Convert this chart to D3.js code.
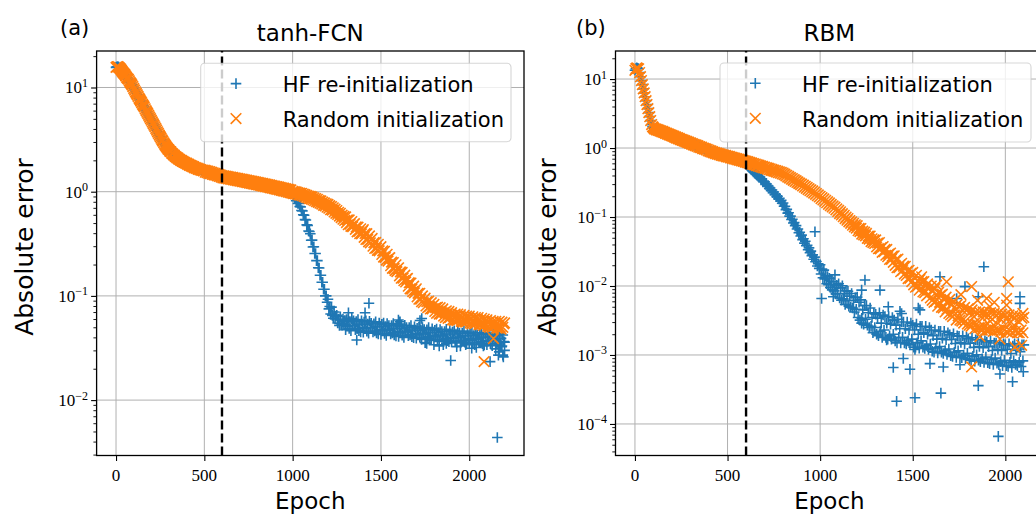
<!DOCTYPE html>
<html><head><meta charset="utf-8">
<script src="https://cdn.jsdelivr.net/npm/d3@7"></script>
<style>body{margin:0;background:#fff}svg{display:block}</style>
</head><body>
<svg id="c" width="1036" height="515"></svg>
<script>
// ---------------- DATA ----------------
const SERIES_NAMES = ["HF re-initialization", "Random initialization"];
const PANEL_TITLES = ["tanh-FCN", "RBM"];
const PANEL_TAGS = ["(a)", "(b)"];
const X_TICKS = [0, 500, 1000, 1500, 2000];
const X_TICK_LABELS = ["0", "500", "1000", "1500", "2000"];
const Y_TICKS_A = [1e-2, 1e-1, 1, 10];
const Y_EXP_A = ["\u22122", "\u22121", "0", "1"];
const Y_TICKS_B = [1e-4, 1e-3, 1e-2, 1e-1, 1, 10];
const Y_EXP_B = ["\u22124", "\u22123", "\u22122", "\u22121", "0", "1"];
const REINIT_EPOCH = 600;

// Panel (a) tanh-FCN : random initialization, sampled every 5 epochs 0..2200
const epochsA = d3.range(0, 2201, 5);
const randA = [
 15.6,15.8,15.9,15.7,15.4,15.1,14.7,14.3,13.9,13.6,13.3,12.9,12.5,12.2,12.0,11.6,11.2,10.9,10.6,10.2,
 9.8,9.45,9.1,8.8,8.5,8.2,7.9,7.65,7.4,7.15,6.9,6.7,6.5,6.25,6.0,5.8,5.6,5.4,5.2,5.02,
 4.85,4.67,4.5,4.35,4.2,4.05,3.9,3.76,3.62,3.49,3.37,3.26,3.15,3.05,2.95,2.86,2.78,2.7,2.63,2.56,
 2.52,2.44,2.42,2.34,2.32,2.25,2.24,2.18,2.16,2.11,2.11,2.05,2.04,2.0,2.0,1.95,1.95,1.91,1.91,1.87,
 1.88,1.83,1.84,1.79,1.8,1.76,1.77,1.73,1.74,1.69,1.7,1.67,1.68,1.64,1.66,1.62,1.63,1.6,1.61,1.58,
 1.61,1.54,1.59,1.52,1.58,1.5,1.56,1.49,1.54,1.47,1.52,1.45,1.5,1.44,1.48,1.42,1.47,1.4,1.45,1.38,
 1.43,1.36,1.42,1.35,1.41,1.34,1.4,1.33,1.39,1.32,1.38,1.31,1.37,1.3,1.36,1.29,1.35,1.28,1.34,1.27,
 1.33,1.26,1.32,1.25,1.31,1.24,1.3,1.23,1.29,1.22,1.28,1.21,1.27,1.2,1.26,1.19,1.25,1.18,1.24,1.17,
 1.23,1.16,1.22,1.15,1.21,1.14,1.2,1.13,1.19,1.12,1.18,1.11,1.17,1.1,1.16,1.09,1.15,1.08,1.14,1.07,
 1.13,1.06,1.12,1.05,1.11,1.04,1.1,1.03,1.09,1.02,1.08,1.01,1.07,1.0,1.06,0.99,1.05,0.98,1.04,0.97,
 1.01,0.96,1.0,0.955,0.995,0.945,0.98,0.93,0.97,0.925,0.965,0.915,0.95,0.9,0.935,0.885,0.92,0.87,0.905,0.86,
 0.9,0.85,0.89,0.835,0.875,0.82,0.86,0.805,0.845,0.79,0.825,0.775,0.815,0.76,0.795,0.74,0.78,0.73,0.765,0.71,
 0.755,0.695,0.735,0.672,0.72,0.665,0.7,0.64,0.68,0.62,0.66,0.605,0.635,0.583,0.62,0.565,0.595,0.545,0.58,0.53,
 0.572,0.506,0.536,0.482,0.536,0.488,0.465,0.517,0.461,0.487,0.493,0.435,0.459,0.412,0.457,0.415,0.395,0.44,0.394,0.417,
 0.432,0.365,0.397,0.348,0.396,0.348,0.33,0.376,0.323,0.348,0.356,0.3,0.324,0.285,0.326,0.288,0.274,0.313,0.271,0.291,
 0.297,0.25,0.271,0.236,0.268,0.234,0.221,0.251,0.216,0.23,0.233,0.195,0.211,0.184,0.209,0.183,0.175,0.199,0.171,0.183,
 0.186,0.156,0.17,0.148,0.168,0.148,0.14,0.158,0.136,0.146,0.147,0.124,0.134,0.117,0.133,0.116,0.11,0.124,0.107,0.114,
 0.117,0.098,0.106,0.093,0.106,0.093,0.088,0.1,0.086,0.093,0.095,0.08,0.088,0.077,0.089,0.079,0.075,0.086,0.075,0.081,
 0.083,0.071,0.077,0.068,0.078,0.07,0.067,0.077,0.067,0.073,0.075,0.064,0.07,0.062,0.072,0.064,0.061,0.071,0.062,0.067,
 0.069,0.059,0.065,0.058,0.067,0.06,0.058,0.067,0.059,0.064,0.066,0.057,0.062,0.056,0.065,0.058,0.056,0.064,0.057,0.062,
 0.064,0.055,0.06,0.054,0.063,0.056,0.054,0.062,0.055,0.06,0.062,0.053,0.058,0.053,0.061,0.054,0.052,0.06,0.053,0.058,
 0.059,0.051,0.056,0.05,0.058,0.052,0.05,0.057,0.051,0.055,0.057,0.049,0.055,0.049,0.057,0.05,0.048,0.056,0.05,0.054,
 0.055
];
// HF re-initialization (a): same run as random until epoch 1000, then:
const hfAfterEpochsA = d3.range(1005, 2201, 5);
const hfAfterA = [
 0.92,0.87,0.87,0.82,0.82,0.77,0.77,0.72,0.715,0.66,0.655,0.6,0.595,0.54,0.535,0.48,0.475,0.42,0.415,
 0.395,0.342,0.343,0.295,0.296,0.255,0.255,0.218,0.218,0.186,0.185,0.158,0.158,0.135,0.135,0.116,0.116,0.1,0.1,0.087,
 0.093,0.075,0.079,0.067,0.078,0.065,0.061,0.07,0.06,0.064,0.065,0.055,0.06,0.052,0.063,0.054,0.052,0.06,0.053,0.058,
 0.0475,0.0594,0.0513,0.061,0.0486,0.0567,0.0464,0.0605,0.0524,0.0578,0.052,0.0473,0.0567,0.0484,0.0593,0.0463,0.0536,0.0452,0.0577,0.0499,
 0.0449,0.0561,0.0485,0.0576,0.0459,0.0536,0.0439,0.0571,0.0495,0.0546,0.0495,0.045,0.054,0.046,0.0564,0.0441,0.051,0.0431,0.0549,0.0475,
 0.0427,0.0534,0.0461,0.0548,0.0437,0.0509,0.0417,0.0543,0.047,0.0519,0.0475,0.0432,0.0518,0.0442,0.0542,0.0423,0.0489,0.0413,0.0527,0.0456,
 0.0409,0.0512,0.0442,0.0525,0.0419,0.0488,0.04,0.0521,0.0451,0.0498,0.0455,0.0414,0.0496,0.0423,0.0519,0.0405,0.0469,0.0396,0.0505,0.0437,
 0.0392,0.049,0.0423,0.0503,0.0401,0.0467,0.0383,0.0498,0.0432,0.0476,0.0435,0.0396,0.0474,0.0405,0.0496,0.0387,0.0448,0.0378,0.0483,0.0418,
 0.0374,0.0468,0.0404,0.048,0.0383,0.0446,0.0366,0.0476,0.0412,0.0455,0.0418,0.038,0.0456,0.0389,0.0477,0.0372,0.0431,0.0364,0.0464,0.0401,
 0.0361,0.0451,0.039,0.0463,0.0369,0.0431,0.0353,0.0459,0.0398,0.0439,0.0403,0.0367,0.0439,0.0375,0.0459,0.0359,0.0415,0.0351,0.0447,0.0387,
 0.0348,0.0436,0.0376,0.0447,0.0356,0.0416,0.0341,0.0444,0.0384,0.0424,0.039,0.0355,0.0425,0.0363,0.0445,0.0347,0.0402,0.0339,0.0433,0.0374,
 0.034,0.0425,0.0367,0.0436,0.0347,0.0405,0.0332,0.0432,0.0374,0.0413,0.038,0.0346,0.0414,0.0353,0.0433,0.0338,0.0391,0.0331,0.0422,0.0365,
 0.036
];
const hfOutEpochsA = [1316,1363,1410,1432,1599,1608,1721,1731,1750,1759,1800,1830,1853,1870,1895,1929,1950,1980,2014,2040,2080,2118,2150,2159,2165,2170,2184,2190,2193,2200];
const hfOutValsA   = [0.069,0.0377,0.069,0.085,0.0587,0.0565,0.058,0.0607,0.0356,0.035,0.034,0.033,0.034,0.035,0.024,0.0326,0.033,0.034,0.0315,0.032,0.033,0.0234,0.031,0.00438,0.027,0.029,0.0326,0.027,0.026,0.03];
const randOutEpochsA = [2084, 2137];
const randOutValsA   = [0.0234, 0.039];

// Panel (b) RBM : random initialization, sampled every 5 epochs 0..2100
const epochsB = d3.range(0, 2101, 5);
const randB = [
 13.4,14.2,14.5,14.3,14.1,12.4,10.8,9.5,8.3,7.2,6.3,5.55,4.86,4.26,3.72,3.26,2.85,2.5,2.19,2.04,
 1.97,1.89,1.9,1.84,1.86,1.8,1.82,1.76,1.78,1.72,1.74,1.68,1.69,1.63,1.65,1.59,1.61,1.55,1.57,1.51,
 1.53,1.47,1.49,1.43,1.45,1.39,1.42,1.36,1.38,1.32,1.34,1.29,1.31,1.26,1.28,1.23,1.25,1.2,1.22,1.17,
 1.19,1.14,1.16,1.11,1.13,1.08,1.11,1.06,1.08,1.03,1.05,1.01,1.03,0.98,1.0,0.96,0.98,0.94,0.96,0.91,
 0.93,0.89,0.91,0.87,0.885,0.85,0.865,0.83,0.85,0.815,0.835,0.8,0.82,0.785,0.805,0.77,0.79,0.76,0.78,0.745,
 0.765,0.735,0.755,0.72,0.74,0.71,0.727,0.695,0.715,0.685,0.703,0.672,0.69,0.66,0.68,0.65,0.667,0.64,0.655,0.627,
 0.645,0.615,0.633,0.604,0.62,0.592,0.608,0.58,0.596,0.569,0.585,0.557,0.574,0.547,0.563,0.536,0.551,0.526,0.541,0.515,
 0.53,0.505,0.52,0.495,0.51,0.485,0.5,0.475,0.49,0.467,0.48,0.457,0.471,0.448,0.462,0.439,0.453,0.431,0.444,0.421,
 0.434,0.41,0.418,0.395,0.403,0.38,0.388,0.367,0.374,0.353,0.361,0.341,0.348,0.328,0.336,0.317,0.323,0.305,0.311,0.294,
 0.301,0.282,0.29,0.271,0.279,0.26,0.269,0.25,0.258,0.241,0.248,0.231,0.239,0.222,0.23,0.213,0.219,0.204,0.209,0.195,
 0.2,0.185,0.191,0.177,0.183,0.169,0.175,0.161,0.167,0.153,0.16,0.146,0.152,0.14,0.145,0.134,0.139,0.127,0.131,0.12,
 0.125,0.112,0.119,0.107,0.112,0.101,0.106,0.095,0.1,0.09,0.095,0.085,0.089,0.081,0.085,0.076,0.081,0.072,0.077,0.069,
 0.0749,0.0632,0.0685,0.0616,0.068,0.0566,0.0624,0.055,0.0604,0.0533,0.0578,0.0491,0.053,0.0478,0.0529,0.044,0.0484,0.0426,0.0466,0.0413,
 0.0466,0.0369,0.042,0.0347,0.0426,0.0344,0.036,0.0308,0.0373,0.0314,0.0339,0.0279,0.0339,0.0266,0.029,0.0243,0.03,0.0244,0.0272,0.022,
 0.0274,0.0199,0.0242,0.0184,0.0246,0.0184,0.0202,0.0161,0.0213,0.0168,0.0194,0.0149,0.0193,0.0142,0.0164,0.0128,0.0169,0.0129,0.0153,0.0116,
 0.0157,0.0104,0.0135,0.0096,0.0143,0.0099,0.0115,0.0087,0.0125,0.0093,0.0116,0.0082,0.0116,0.008,0.0099,0.0072,0.0107,0.0076,0.0094,0.0067,
 0.01,0.0062,0.0085,0.0058,0.0092,0.006,0.0072,0.0051,0.0081,0.0058,0.0074,0.0049,0.0076,0.0048,0.0063,0.0042,0.0069,0.0046,0.006,0.004,
 0.0064,0.0038,0.0055,0.0036,0.006,0.0038,0.0046,0.0032,0.0054,0.0037,0.005,0.0032,0.0052,0.0031,0.0044,0.0029,0.0049,0.0031,0.0044,0.0028,
 0.0047,0.0027,0.0041,0.0026,0.0045,0.0028,0.0036,0.0024,0.0042,0.0028,0.004,0.0025,0.0042,0.0025,0.0036,0.0023,0.0042,0.0026,0.0037,0.0023,
 0.004,0.0023,0.0037,0.0023,0.0041,0.0025,0.0033,0.0022,0.004,0.0026,0.0037,0.0023,0.004,0.0023,0.0034,0.0022,0.0039,0.0025,0.0036,0.0023,
 0.0038,0.0022,0.0034,0.0021,0.0038,0.0023,0.003,0.0021,0.0037,0.0025,0.0034,0.0022,0.0037,0.0021,0.0031,0.0021,0.0036,0.0023,0.0034,0.0021,
 0.0035
];
// HF re-initialization (b): same run as random until epoch 600, then:
const hfAfterEpochsB = d3.range(605, 2101, 5);
const hfAfterB = [
 0.58,0.54,0.545,0.51,0.515,0.48,0.485,0.45,0.455,0.425,0.43,0.4,0.405,0.375,0.38,0.352,0.357,0.332,0.333,
 0.323,0.297,0.302,0.278,0.282,0.259,0.263,0.242,0.246,0.226,0.23,0.21,0.214,0.197,0.2,0.183,0.187,0.171,0.174,0.158,
 0.16,0.143,0.143,0.128,0.129,0.114,0.115,0.103,0.103,0.092,0.093,0.082,0.083,0.075,0.075,0.067,0.067,0.059,0.06,0.053,
 0.0546,0.047,0.0484,0.0418,0.0445,0.0384,0.0388,0.0335,0.0357,0.0304,0.032,0.0276,0.0283,0.0244,0.0262,0.0225,0.0226,0.0195,0.021,0.018,
 0.0203,0.0149,0.0176,0.0132,0.017,0.0127,0.0141,0.0108,0.0137,0.0104,0.0129,0.0095,0.0117,0.0088,0.0115,0.0085,0.0101,0.0077,0.0102,0.0077,
 0.0108,0.0067,0.0094,0.0062,0.0101,0.0065,0.0078,0.0054,0.0085,0.0061,0.0084,0.0051,0.0071,0.0049,0.0078,0.0048,0.0062,0.0042,0.0068,0.0046,
 0.0069,0.0035,0.0058,0.0032,0.0063,0.0034,0.0045,0.0028,0.0052,0.0033,0.0052,0.0027,0.0041,0.0025,0.0048,0.0026,0.0035,0.0021,0.004,0.0025,
 0.0039,0.002,0.0034,0.0019,0.0041,0.0022,0.0029,0.0018,0.0038,0.0023,0.0036,0.0018,0.0029,0.0017,0.0036,0.0019,0.0028,0.0017,0.0035,0.002,
 0.0032,0.0016,0.0027,0.0015,0.0033,0.0018,0.0024,0.0015,0.003,0.0018,0.003,0.0015,0.0024,0.00145,0.003,0.0016,0.0023,0.0014,0.0029,0.0017,
 0.0027,0.0013,0.0023,0.0013,0.0028,0.0015,0.002,0.00125,0.0026,0.0016,0.0026,0.0013,0.0021,0.00124,0.0026,0.00137,0.002,0.0012,0.0025,0.00144,
 0.0023,0.00113,0.0019,0.0011,0.0023,0.00126,0.0017,0.00107,0.0022,0.00133,0.0022,0.0011,0.00175,0.00105,0.0022,0.00116,0.00167,0.00102,0.0021,0.00122,
 0.00196,0.00098,0.00168,0.00095,0.00203,0.00109,0.00147,0.00092,0.00189,0.00115,0.00187,0.00095,0.00152,0.00091,0.0019,0.001,0.00145,0.00088,0.00182,0.00106,
 0.00172,0.00086,0.00148,0.00084,0.00178,0.00096,0.00129,0.00081,0.00166,0.00101,0.00165,0.00084,0.00133,0.0008,0.00167,0.00088,0.00128,0.00078,0.0016,0.00093,
 0.00154,0.00077,0.00132,0.00075,0.0016,0.00086,0.00116,0.00073,0.00149,0.0009,0.00149,0.00076,0.00121,0.00072,0.00151,0.0008,0.00116,0.0007,0.00145,0.00084,
 0.0014,0.0007,0.0012,0.00068,0.00145,0.00078,0.00105,0.00066,0.00135,0.00082,0.00145,0.00073,0.00117,0.0007,0.00147,0.00078,0.00112,0.00068,0.00141,0.00082,
 0.0014
];
const hfOutEpochsB = [972,1008,1071,1080,1224,1224,1242,1323,1359,1368,1395,1413,1431,1440,1449,1485,1512,1512,1530,1539,1593,1647,1652,1665,1737,1755,1782,1854,1854,1884,1962,1971,2039,2079,2079,2097];
const hfOutValsB   = [0.061,0.0066,0.007,0.0145,0.0087,0.0029,0.0122,0.0087,0.00165,0.005,0.00066,0.000213,0.0043,0.004,0.00089,0.00062,0.00024,0.0012,0.0048,0.0045,0.00075,0.0136,0.00028,0.00067,0.0066,0.00072,0.0098,0.007,0.00036,0.019,0.000066,0.00053,0.00041,0.007,0.0056,0.00057];
const randOutEpochsB = [1548,1629,1683,1760,1818,1818,1850,1863,1899,1917,1940,1971,2007,2007,2016,2052,2088,2095];
const randOutValsB   = [0.0136,0.0103,0.0115,0.0075,0.0098,0.00067,0.0062,0.00185,0.0066,0.005,0.0058,0.0017,0.0066,0.0053,0.0115,0.0013,0.00138,0.004];

// ---------------- DRAWING ----------------
const C_HF = "#1f77b4", C_RAND = "#ff7f0e";
const SANS = '"DejaVu Sans", Verdana, sans-serif';
const SERIF = '"Liberation Serif", "DejaVu Serif", serif';
const svg = d3.select("#c");
const defs = svg.append("defs");
const MS = 5.3;      // marker half size
const MW = 1.6;      // marker stroke width
const plusAt = (px, py) => `M${px - MS},${py}H${px + MS}M${px},${py - MS}V${py + MS}`;
const crossAt = (px, py) => `M${px - MS},${py - MS}L${px + MS},${py + MS}M${px - MS},${py + MS}L${px + MS},${py - MS}`;

function build(epochs, vals, cut, afterE, afterV) {
  const shared = epochs.map((e, i) => [e, vals[i]]).filter(d => d[0] <= cut);
  return shared.concat(afterE.map((e, i) => [e, afterV[i]]));
}
function zip(e, v) { return e.map((x, i) => [x, v[i]]); }

function panel(cfg) {
  const x = d3.scaleLinear().domain(cfg.xDomain).range([cfg.left, cfg.right]);
  const y = d3.scaleLog().domain(cfg.yDomain).range([cfg.bottom, cfg.top]);
  const g = svg.append("g");
  const cid = "clip" + cfg.key;
  defs.append("clipPath").attr("id", cid).append("rect")
    .attr("x", cfg.left).attr("y", cfg.top)
    .attr("width", cfg.right - cfg.left).attr("height", cfg.bottom - cfg.top);

  // grid
  const grid = g.append("g").attr("stroke", "#b0b0b0").attr("stroke-width", 1);
  X_TICKS.forEach(t => grid.append("line").attr("x1", x(t)).attr("x2", x(t)).attr("y1", cfg.top).attr("y2", cfg.bottom));
  cfg.yTicks.forEach(t => grid.append("line").attr("x1", cfg.left).attr("x2", cfg.right).attr("y1", y(t)).attr("y2", y(t)));

  const data = g.append("g").attr("clip-path", `url(#${cid})`);
  // each series drawn as one compound path of markers (solid where markers overlap)
  function scatter(pts, markerAt, color) {
    data.append("path").datum(pts)
      .attr("d", d => d.map(p => markerAt(x(p[0]), y(p[1]))).join(""))
      .attr("stroke", color).attr("stroke-width", MW).attr("fill", "none");
  }
  scatter(cfg.hf.concat(cfg.hfOut), plusAt, C_HF);
  scatter(cfg.rand.concat(cfg.randOut), crossAt, C_RAND);

  // dashed re-init line (drawn bottom->top)
  data.append("line").attr("x1", x(REINIT_EPOCH)).attr("x2", x(REINIT_EPOCH))
    .attr("y1", cfg.bottom).attr("y2", cfg.top)
    .attr("stroke", "#000").attr("stroke-width", 2.4).attr("stroke-dasharray", "9,4");

  // axes ticks
  const xa = g.append("g").attr("transform", `translate(0,${cfg.bottom})`)
    .call(d3.axisBottom(x).tickValues(X_TICKS).tickSize(5.5).tickFormat(""));
  xa.select(".domain").remove();
  xa.selectAll("line").attr("stroke", "#000").attr("stroke-width", 1.1);
  const ya = g.append("g").attr("transform", `translate(${cfg.left},0)`)
    .call(d3.axisLeft(y).tickValues(cfg.yTicks).tickSize(5.5).tickFormat(""));
  ya.select(".domain").remove();
  ya.selectAll("line").attr("stroke", "#000").attr("stroke-width", 1.1);
  const minors = [];
  const [lo, hi] = cfg.yDomain;
  for (let d = Math.floor(Math.log10(lo)); d <= Math.ceil(Math.log10(hi)); d++)
    for (let m = 2; m <= 9; m++) { const v = m * Math.pow(10, d); if (v >= lo && v <= hi) minors.push(v); }
  const ym = g.append("g").attr("transform", `translate(${cfg.left},0)`)
    .call(d3.axisLeft(y).tickValues(minors).tickSize(3.2).tickFormat(""));
  ym.select(".domain").remove();
  ym.selectAll("line").attr("stroke", "#000").attr("stroke-width", 0.9);

  // tick labels
  X_TICKS.forEach((t, i) => g.append("text").attr("x", x(t)).attr("y", cfg.bottom + 25)
    .attr("text-anchor", "middle").attr("font-family", SERIF).attr("font-size", 17)
    .text(X_TICK_LABELS[i]));
  cfg.yTicks.forEach((t, i) => {
    const tx = g.append("text").attr("x", cfg.left - 8.5).attr("y", y(t) + 6)
      .attr("text-anchor", "end").attr("font-family", SERIF).attr("font-size", 17);
    tx.append("tspan").text("10");
    tx.append("tspan").attr("dy", -6.5).attr("font-size", 12).text(cfg.yExp[i]);
  });

  // spines
  g.append("rect").attr("x", cfg.left).attr("y", cfg.top)
    .attr("width", cfg.right - cfg.left).attr("height", cfg.bottom - cfg.top)
    .attr("fill", "none").attr("stroke", "#000").attr("stroke-width", 1.3);

  // labels
  const cx = (cfg.left + cfg.right) / 2;
  g.append("text").attr("x", cx).attr("y", 40.5).attr("text-anchor", "middle")
    .attr("font-family", SANS).attr("font-size", 23).text(cfg.title);
  g.append("text").attr("x", cfg.tagX).attr("y", 34.5)
    .attr("font-family", SANS).attr("font-size", 21).text(cfg.tag);
  g.append("text").attr("x", cx).attr("y", 509).attr("text-anchor", "middle")
    .attr("font-family", SANS).attr("font-size", 23).text("Epoch");
  g.append("text").attr("transform", `translate(${cfg.ylabX},247) rotate(-90)`)
    .attr("text-anchor", "middle").attr("font-family", SANS).attr("font-size", 25)
    .text("Absolute error");

  // legend
  const lg = g.append("g");
  lg.append("rect").attr("x", cfg.leg.x).attr("y", cfg.leg.y).attr("width", cfg.leg.w).attr("height", cfg.leg.h)
    .attr("rx", 4).attr("fill", "#fff").attr("fill-opacity", 0.8)
    .attr("stroke", "#cccccc").attr("stroke-opacity", 0.8).attr("stroke-width", 1.1);
  const rows = [[plusAt, C_HF], [crossAt, C_RAND]];
  rows.forEach((r, i) => {
    const yy = cfg.leg.y + 20.3 + i * 35;
    lg.append("path").attr("d", r[0](cfg.leg.mx, yy))
      .attr("stroke", r[1]).attr("stroke-width", MW).attr("fill", "none");
    lg.append("text").attr("x", cfg.leg.tx).attr("y", yy + 8.7)
      .attr("font-family", SANS).attr("font-size", 21).text(SERIES_NAMES[i]);
  });
}

panel({
  key: "a", left: 96.6, right: 524, top: 51, bottom: 455.5,
  xDomain: [-110, 2310], yDomain: [0.00294, 22.4],
  yTicks: Y_TICKS_A, yExp: Y_EXP_A,
  hf: build(epochsA, randA, 1000, hfAfterEpochsA, hfAfterA), hfOut: zip(hfOutEpochsA, hfOutValsA),
  rand: zip(epochsA, randA), randOut: zip(randOutEpochsA, randOutValsA),
  title: PANEL_TITLES[0], tag: PANEL_TAGS[0], tagX: 60, ylabX: 33,
  leg: { x: 200.7, y: 63.3, w: 310.3, h: 78.4, mx: 236, tx: 282.7 }
});
panel({
  key: "b", left: 615.5, right: 1043.3, top: 51, bottom: 455.5,
  xDomain: [-105, 2205], yDomain: [3.49e-5, 25.5],
  yTicks: Y_TICKS_B, yExp: Y_EXP_B,
  hf: build(epochsB, randB, 600, hfAfterEpochsB, hfAfterB), hfOut: zip(hfOutEpochsB, hfOutValsB),
  rand: zip(epochsB, randB), randOut: zip(randOutEpochsB, randOutValsB),
  title: PANEL_TITLES[1], tag: PANEL_TAGS[1], tagX: 576, ylabX: 556,
  leg: { x: 720, y: 63, w: 311, h: 79, mx: 755.3, tx: 802 }
});
</script>
</body></html>
